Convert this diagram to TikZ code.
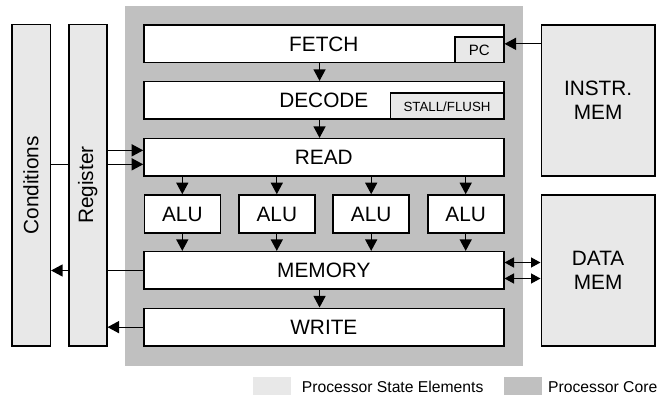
\documentclass[tikz,border=0pt]{standalone}
\usepackage{fontspec}
\usepackage{graphicx}
\setmainfont{Liberation Sans}
\usetikzlibrary{arrows.meta,calc}
\definecolor{coregray}{HTML}{C0C0C0}
\definecolor{stategray}{HTML}{E8E8E8}
\begin{document}
\begin{tikzpicture}[x=1pt,y=-1pt,
  box/.style={draw=black, line width=1.6pt, fill=white, inner sep=0pt,
    font=\fontsize{20.8}{24.3}\selectfont, align=center},
  statebox/.style={box, fill=stategray},
  stage/.style={box, minimum width=359.7pt},
  alubox/.style={box, minimum width=76pt, minimum height=38.3pt},
  arr/.style={line width=1.3pt, -{Triangle[length=11.5pt,width=12pt]}},
  dbl/.style={line width=1.3pt, {Triangle[length=9.5pt,width=10pt]}-{Triangle[length=9.5pt,width=10pt]}},
  plain/.style={line width=1.3pt},
  swatch/.style={inner sep=0pt, minimum width=38.3pt, minimum height=18.3pt},
  legtext/.style={inner sep=0pt, anchor=west, font=\fontsize{15.7}{19}\selectfont}
]
\useasboundingbox (0,0) rectangle (659,398);

% processor core background
\node[fill=coregray, inner sep=0pt, minimum width=397.7pt, minimum height=359.7pt] (core) at (323.85,185.85) {};

% state elements on the left
\node[statebox, minimum width=38.6pt, minimum height=321.7pt] (cond) at (31,185.2) {\rotatebox{90}{Conditions}};
\node[statebox, minimum width=38pt, minimum height=321.7pt] (reg) at (87.7,185.2) {\rotatebox{90}{Register}};

% pipeline stages
\node[stage, minimum height=37.7pt] (fetch) at (323.85,43.85) {FETCH};
\node[statebox, minimum width=49pt, minimum height=25.7pt, font=\fontsize{15}{18}\selectfont] (pc) at (479.2,49.85) {PC};
\node[stage, minimum height=37.6pt] (decode) at (323.85,100.5) {DECODE};
\node[statebox, minimum width=113.4pt, minimum height=26pt, font=\fontsize{13.3}{16}\selectfont] (stall) at (447,106.3) {STALL/FLUSH};
\node[stage, minimum height=37.3pt] (read) at (323.85,157.35) {READ};
\node[alubox] (alu1) at (182.3,214.15) {ALU};
\node[alubox] (alu2) at (276.8,214.15) {ALU};
\node[alubox] (alu3) at (371.2,214.15) {ALU};
\node[alubox] (alu4) at (465.7,214.15) {ALU};
\node[stage, minimum height=37.6pt] (memory) at (323.85,270.5) {MEMORY};
\node[stage, minimum height=37.7pt] (write) at (323.85,327.15) {WRITE};

% memories on the right
\node[statebox, minimum width=113.7pt, minimum height=151pt] (instr) at (598.15,100.5) {INSTR.\\MEM};
\node[statebox, minimum width=113.7pt, minimum height=151pt] (data) at (598.15,270.5) {DATA\\MEM};

% vertical flow
\draw[arr] ([xshift=-4.3pt]fetch.south) -- ([xshift=-4.3pt]decode.north);
\draw[arr] ([xshift=-4.3pt]decode.south) -- ([xshift=-4.3pt]read.north);
\foreach \a in {alu1,alu2,alu3,alu4}{
  \draw[arr] (read.south -| \a.north) -- (\a.north);
  \draw[arr] (\a.south) -- (memory.north -| \a.south);
}
\draw[arr] ([xshift=-4.3pt]memory.south) -- ([xshift=-4.3pt]write.north);

% register file to READ
\coordinate (r1) at ([yshift=-7pt]read.west);
\coordinate (r2) at ([yshift=7pt]read.west);
\draw[arr] (reg.east |- r1) -- (r1);
\draw[arr] (reg.east |- r2) -- (r2);
\draw[plain] (cond.east |- r1) -- (reg.west |- r1);

% memory / write back
\draw[plain] (memory.west) -- (reg.east |- memory.west);
\draw[arr] (reg.west |- memory.west) -- (cond.east |- memory.west);
\draw[arr] (write.west) -- (reg.east |- write.west);

% instruction memory to PC
\draw[arr] (instr.west |- fetch.east) -- (fetch.east);

% memory <-> data memory
\coordinate (m1) at ([yshift=-8pt]memory.east);
\coordinate (m2) at ([yshift=8pt]memory.east);
\draw[dbl] (m1) -- (data.west |- m1);
\draw[dbl] (m2) -- (data.west |- m2);

% legend
\node[swatch, fill=stategray] (sw1) at (271.85,386.15) {};
\node[legtext] (lt1) at (301.7,386.6) {Processor State Elements};
\node[swatch, fill=coregray] (sw2) at (522.85,386.15) {};
\node[legtext] (lt2) at (548,386.6) {Processor Core};
\end{tikzpicture}
\end{document}
